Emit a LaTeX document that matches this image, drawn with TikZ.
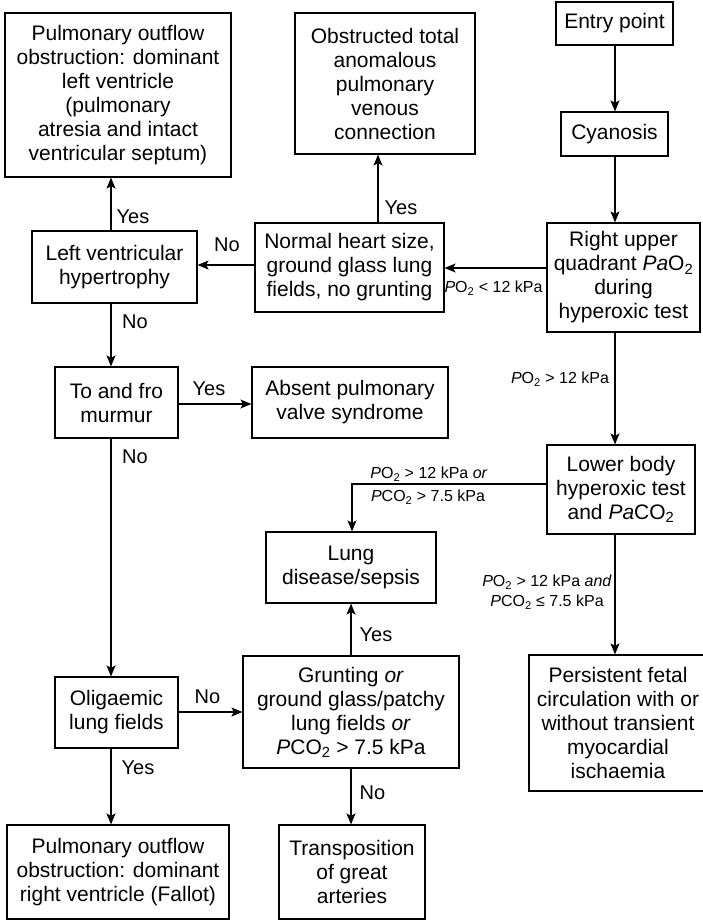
\documentclass[tikz,border=0pt]{standalone}
\usepackage{fontspec}
\setmainfont{Liberation Sans}
\usetikzlibrary{arrows.meta}
\begin{document}
\begin{tikzpicture}[x=1pt,y=-1pt,
  box/.style={draw, line width=1.2pt, align=center, inner sep=0pt,
              font=\fontsize{21}{24}\selectfont},
  arr/.style={line width=1.2pt, -{Stealth[length=11pt,width=9pt,inset=2.5pt]}},
  yn/.style={font=\fontsize{20}{24}\selectfont, inner sep=0pt},
  cond/.style={font=\fontsize{16}{20}\selectfont, inner sep=0pt, align=center}]
\useasboundingbox (0,0) rectangle (702,921);

% column and row guides for the connectors
\coordinate (cR) at (615,0);
\coordinate (cL) at (111,0);
\coordinate (cT) at (378,0);
\coordinate (cM) at (351,0);
\coordinate (cLung) at (352,0);
\coordinate (rA) at (0,268);
\coordinate (rB) at (0,265);
\coordinate (rC) at (0,404);
\coordinate (rD) at (0,712);
\coordinate (rE) at (0,484);

% decision and outcome boxes
\node[box, minimum width=226pt, minimum height=164pt] (pldom) at (118,95)
  {Pulmonary outflow\\obstruction: dominant\\left ventricle\\(pulmonary\\atresia and intact\\ventricular septum)};
\node[box, minimum width=180pt, minimum height=141pt] (tapvc) at (385,83.5)
  {Obstructed total\\anomalous\\pulmonary\\venous\\connection};
\node[box, minimum width=117pt, minimum height=43pt] (entry) at (614.5,23.5) {Entry point};
\node[box, minimum width=107pt, minimum height=44pt] (cyan) at (614.5,134) {Cyanosis};
\node[box, minimum width=153pt, minimum height=109pt] (ruq) at (623.5,277.5)
  {Right upper\\quadrant \textit{Pa}O\textsubscript{2}\\during\\hyperoxic test};
\node[box, minimum width=189pt, minimum height=89pt] (normal) at (349.5,267.5)
  {Normal heart size,\\ground glass lung\\fields, no grunting};
\node[box, minimum width=165pt, minimum height=72pt] (lvh) at (114.5,267)
  {Left ventricular\\hypertrophy};
\node[box, minimum width=123pt, minimum height=71pt] (tofro) at (116.5,402.5)
  {To and fro\\murmur};
\node[box, minimum width=196pt, minimum height=71pt] (absent) at (350,402.5)
  {Absent pulmonary\\valve syndrome};
\node[box, minimum width=148pt, minimum height=89pt] (lower) at (621,489.5)
  {Lower body\\hyperoxic test\\and \textit{Pa}CO\textsubscript{2}};
\node[box, minimum width=170pt, minimum height=71pt] (lung) at (351,567.5)
  {Lung\\disease/sepsis};
\node[box, minimum width=216pt, minimum height=112pt] (grunt) at (351,712)
  {Grunting \textit{or}\\ground glass/patchy\\lung fields \textit{or}\\\textit{P}CO\textsubscript{2} > 7.5 kPa};
\node[box, minimum width=123pt, minimum height=71pt] (olig) at (116.5,712.5)
  {Oligaemic\\lung fields};
\node[box, minimum width=178pt, minimum height=136pt] (persist) at (618,723)
  {Persistent fetal\\circulation with or\\without transient\\myocardial\\ischaemia};
\node[box, minimum width=222pt, minimum height=94pt] (fallot) at (118,872)
  {Pulmonary outflow\\obstruction: dominant\\right ventricle (Fallot)};
\node[box, minimum width=146pt, minimum height=94pt] (transp) at (352,872)
  {Transposition\\of great\\arteries};

% connectors
\draw[arr] (entry.south -| cR) -- (cyan.north -| cR);
\draw[arr] (cyan.south -| cR) -- (ruq.north -| cR);
\draw[arr] (ruq.west |- rA) -- (normal.east |- rA);
\draw[arr] (normal.north -| cT) -- (tapvc.south -| cT);
\draw[arr] (normal.west |- rB) -- (lvh.east |- rB);
\draw[arr] (lvh.north -| cL) -- (pldom.south -| cL);
\draw[arr] (lvh.south -| cL) -- (tofro.north -| cL);
\draw[arr] (tofro.east |- rC) -- (absent.west |- rC);
\draw[arr] (tofro.south -| cL) -- (olig.north -| cL);
\draw[arr] (olig.east |- rD) -- (grunt.west |- rD);
\draw[arr] (olig.south -| cL) -- (fallot.north -| cL);
\draw[arr] (grunt.north -| cM) -- (lung.south -| cM);
\draw[arr] (grunt.south -| cM) -- (transp.north -| cM);
\draw[arr] (ruq.south -| cR) -- (lower.north -| cR);
\draw[arr] (lower.west |- rE) -| (lung.north -| cLung);
\draw[arr] (lower.south -| cR) -- (persist.north -| cR);

% branch labels
\node[yn] (yA) at (133,217) {Yes};
\node[yn] (nA) at (227,245) {No};
\node[yn] (yB) at (401,208) {Yes};
\node[yn] (nB) at (135,322) {No};
\node[yn] (yC) at (209,389) {Yes};
\node[yn] (nC) at (135,457) {No};
\node[yn] (nD) at (207.5,697) {No};
\node[yn] (yD) at (138,768) {Yes};
\node[yn] (yE) at (376,635) {Yes};
\node[yn] (nE) at (372.5,793) {No};

% measurement conditions
\node[cond] (kLt) at (493.5,288) {\textit{P}O\textsubscript{2} < 12 kPa};
\node[cond] (kGt) at (560,379) {\textit{P}O\textsubscript{2} > 12 kPa};
\node[cond] (kOrA) at (429,474) {\textit{P}O\textsubscript{2} > 12 kPa \textit{or}};
\node[cond] (kOrB) at (428,497) {\textit{P}CO\textsubscript{2} > 7.5 kPa};
\node[cond] (kAnd) at (547,592) {\textit{P}O\textsubscript{2} > 12 kPa \textit{and}\\\textit{P}CO\textsubscript{2} ≤ 7.5 kPa};
\end{tikzpicture}
\end{document}
